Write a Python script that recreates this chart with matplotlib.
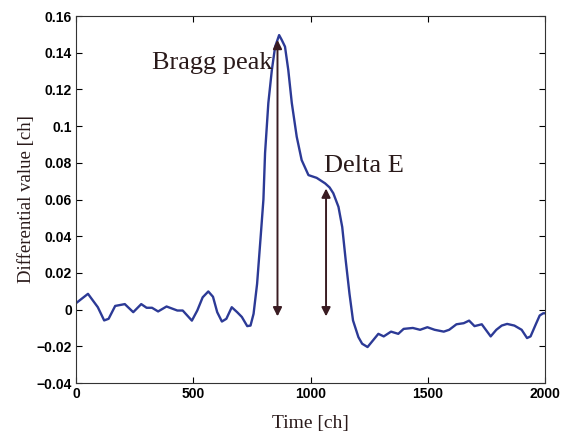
import numpy as np
import matplotlib
matplotlib.use("Agg")
import matplotlib.pyplot as plt

# Values
time_ch = [0, 51, 93, 120, 139, 167, 208, 244, 278, 301, 324, 350, 386, 432, 455,
           494, 517, 540, 564, 584, 602, 622, 641, 664, 687, 707, 730, 744, 757,
           772, 788, 799, 806, 820, 835, 849, 866, 877, 891, 905, 920, 941, 962,
           991, 1026, 1062, 1081, 1097, 1119, 1135, 1150, 1166, 1181, 1204, 1220,
           1243, 1266, 1289, 1312, 1343, 1374, 1397, 1436, 1467, 1498, 1529, 1568,
           1591, 1622, 1653, 1676, 1699, 1730, 1753, 1768, 1792, 1815, 1838, 1869,
           1900, 1923, 1938, 1961, 1977, 1992, 2000]
diff_value = [0.0035, 0.0086, 0.0013, -0.0059, -0.0050, 0.0020, 0.0030, -0.0014,
              0.0030, 0.0010, 0.0010, -0.0010, 0.0017, -0.0005, -0.0005, -0.0060,
              -0.0005, 0.0067, 0.0099, 0.0070, -0.0014, -0.0065, -0.0050, 0.0013,
              -0.0014, -0.0040, -0.0090, -0.0087, -0.0023, 0.0140, 0.0410, 0.0600,
              0.0853, 0.1126, 0.1306, 0.1433, 0.1496, 0.1470, 0.1433, 0.1306,
              0.1126, 0.0942, 0.0815, 0.0733, 0.0718, 0.0688, 0.0666, 0.0634,
              0.0560, 0.0450, 0.0267, 0.0086, -0.0059, -0.0150, -0.0186, -0.0204,
              -0.0168, -0.0132, -0.0146, -0.0120, -0.0132, -0.0105, -0.0100,
              -0.0110, -0.0096, -0.0110, -0.0120, -0.0110, -0.0080, -0.0074,
              -0.0060, -0.0090, -0.0080, -0.0120, -0.0146, -0.0110, -0.0087,
              -0.0078, -0.0087, -0.0110, -0.0155, -0.0146, -0.0078, -0.0032,
              -0.0020, -0.0020]

# Annotation arrows: (x, y_bottom, y_top)
bragg_arrow = (859, -0.0037, 0.147)
delta_arrow = (1066, -0.0037, 0.066)

yticks = [-0.04, -0.02, 0, 0.02, 0.04, 0.06, 0.08, 0.1, 0.12, 0.14, 0.16]
ytick_labels = ["\u22120.04", "\u22120.02", "0", "0.02", "0.04", "0.06", "0.08",
                "0.1", "0.12", "0.14", "0.16"]
xticks = [0, 500, 1000, 1500, 2000]

text_color = "#2a1a1a"
arrow_color = "#3a1c22"
line_color = "#2c3a96"

fig = plt.figure(figsize=(5.69, 4.41), dpi=100)
ax = fig.add_axes([0.1336, 0.1315, 0.8244, 0.8322])

ax.plot(time_ch, diff_value, color=line_color, linewidth=1.7)

for x, y0, y1 in (bragg_arrow, delta_arrow):
    ax.annotate("", xy=(x, y1), xytext=(x, y0),
                arrowprops=dict(arrowstyle="<|-|>", color=arrow_color, lw=1.4,
                                mutation_scale=13, shrinkA=0, shrinkB=0))

serif = "Liberation Serif"
ax.text(324, 0.131, "Bragg peak", family=serif, fontsize=19, color=text_color)
ax.text(1058, 0.0748, "Delta E", family=serif, fontsize=19, color=text_color)

ax.set_xlim(0, 2000)
ax.set_ylim(-0.04, 0.16)
ax.set_xticks(xticks)
ax.set_yticks(yticks)
ax.set_yticklabels(ytick_labels)
ax.tick_params(direction="in", top=True, right=True, length=4, width=0.8,
               labelsize=10, pad=3)
for lab in ax.get_xticklabels() + ax.get_yticklabels():
    lab.set_fontweight("bold")
    lab.set_family("Liberation Sans")
for sp in ax.spines.values():
    sp.set_linewidth(0.8)
    sp.set_color("#333333")

ax.set_xlabel("Time [ch]", family=serif, fontsize=14, color=text_color, labelpad=10)
ax.set_ylabel("Differential value [ch]", family=serif, fontsize=13.5,
              color=text_color)
ax.yaxis.set_label_coords(-0.088, 0.5)

fig.savefig("out.png", dpi=100)
